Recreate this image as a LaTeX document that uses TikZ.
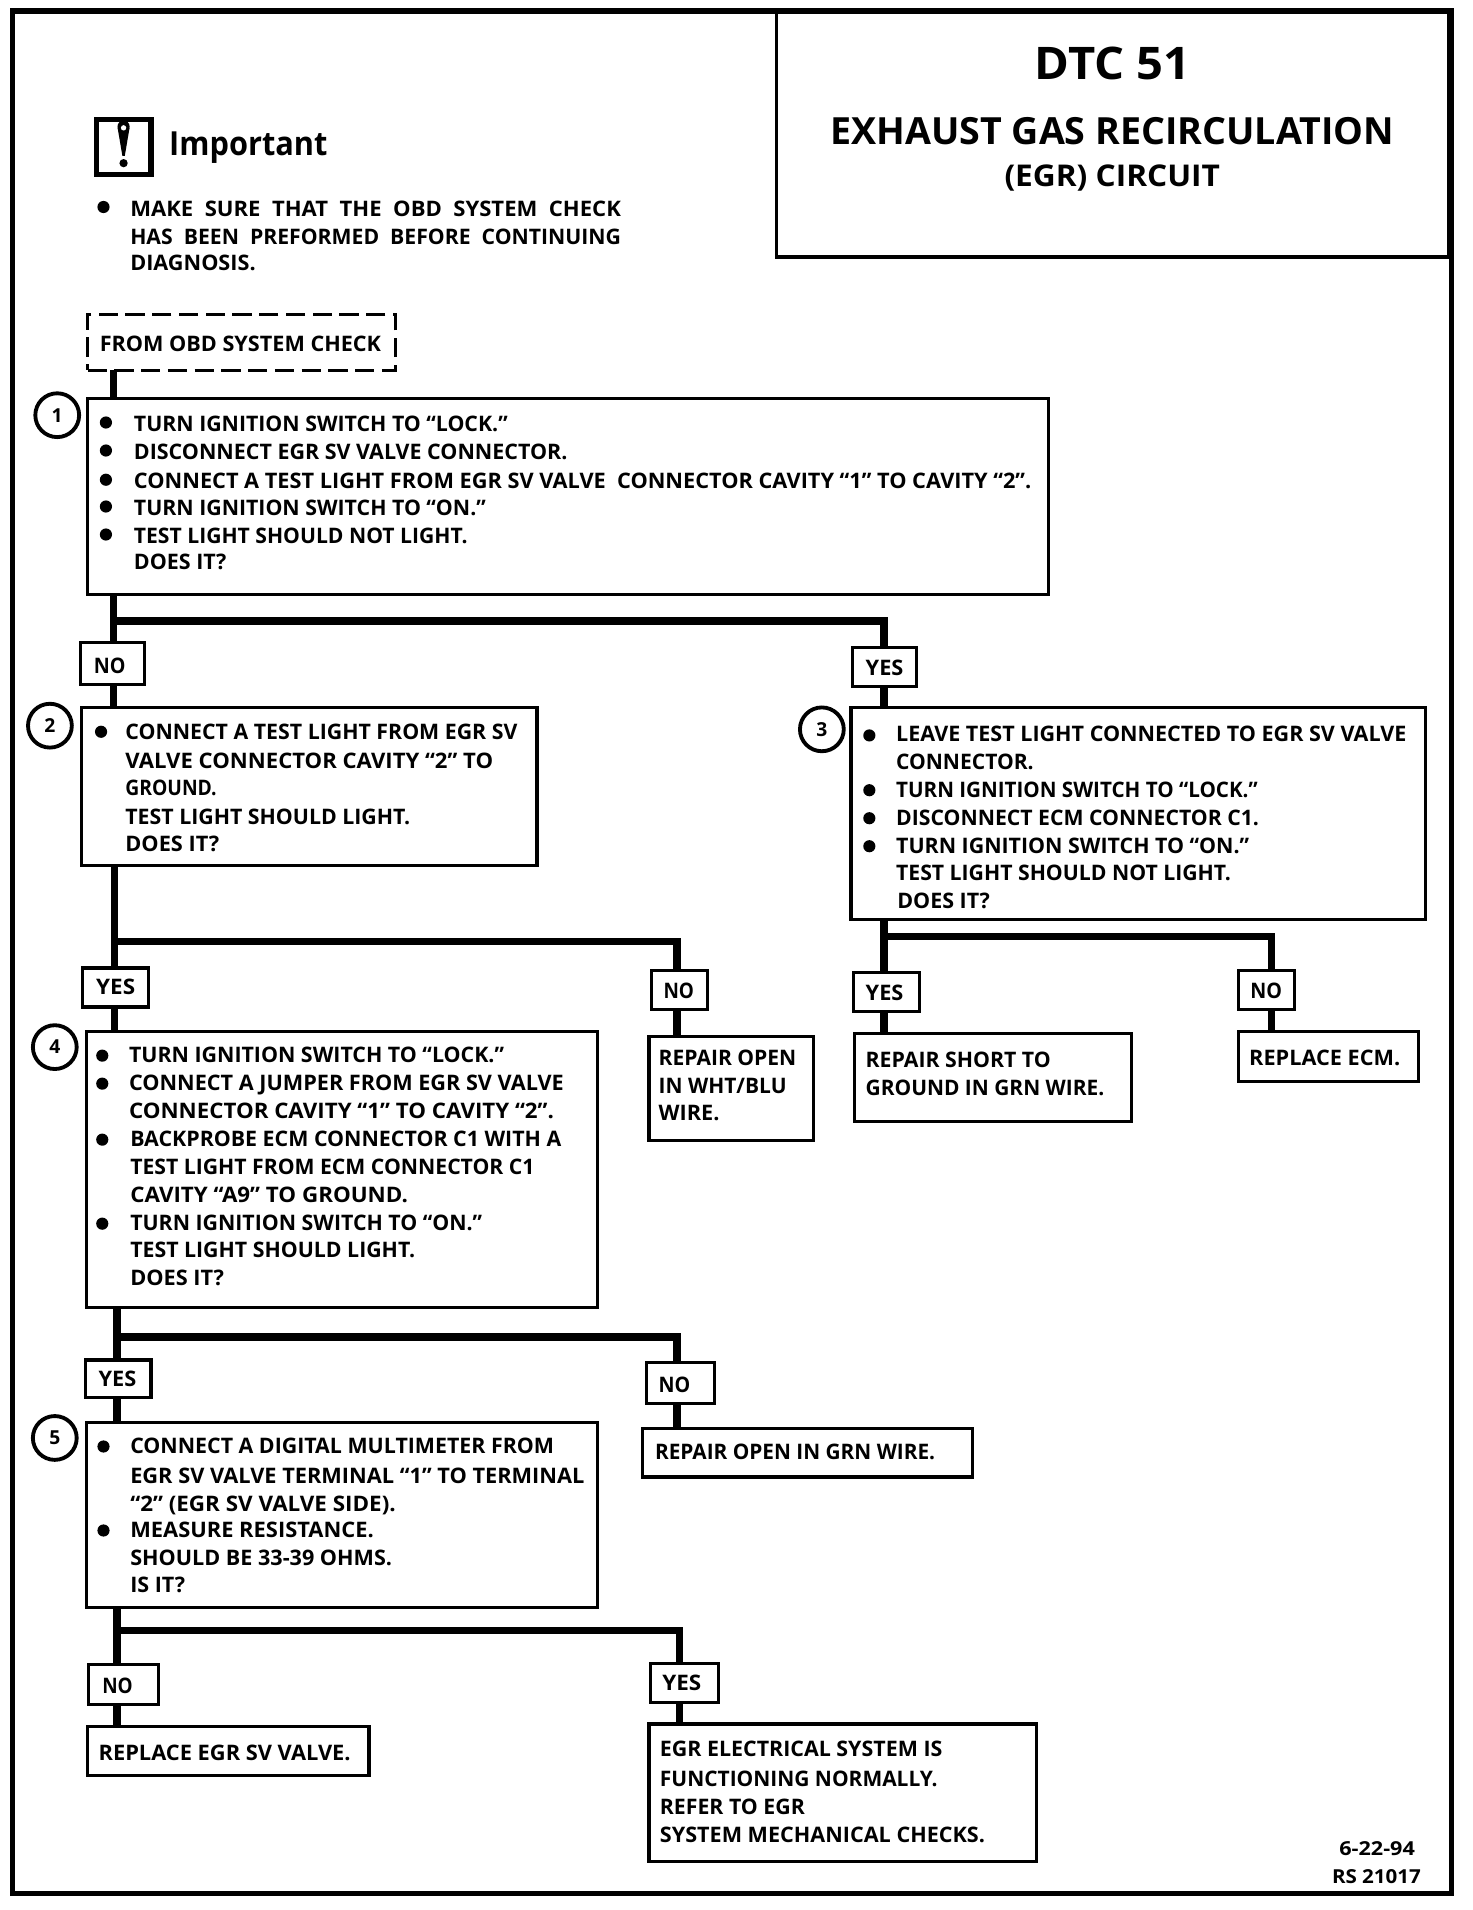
\documentclass[tikz,border=0pt]{standalone}
\usepackage{graphicx}
\usepackage{fontspec}
\setmainfont{Open Sans}
\newcounter{tlc}
\tikzset{
  x=0.02cm,y=-0.02cm,
  frameline/.style={draw=black,line width=2.4pt},
  boxnode/.style={draw=black,line width=1.5pt,fill=white,inner sep=0pt,outer sep=0pt,anchor=north west},
  dashnode/.style={boxnode,dash pattern=on 9pt off 3.5pt},
  conn/.style={draw=black,line width=3.4pt,line cap=butt},
  txtnode/.style={inner sep=0pt,outer sep=0pt,anchor=base west,text=black},
  numnode/.style={circle,draw=black,line width=1.8pt,fill=white,minimum size=0.72cm,inner sep=0pt,font=\fontsize{9}{10}\selectfont\bfseries},
}
% box: name, x1,y1,x2,y2
\newcommand{\bx}[5]{\node[boxnode,minimum width={(#4-#2)*0.02cm},minimum height={(#5-#3)*0.02cm}] (#1) at (#2,#3) {};}
% text line fitted to the measured width: x1,x2,baseline,text
\newcommand{\tl}[4]{\stepcounter{tlc}\pgfmathsetlengthmacro{\tlw}{(#2-#1)*0.02cm}\node[txtnode] (t\thetlc) at (#1,#3) {\resizebox{\tlw}{\height}{\fontsize{10}{12}\selectfont\bfseries #4}};}
\newcommand{\tlb}[5]{\stepcounter{tlc}\pgfmathsetlengthmacro{\tlw}{(#2-#1)*0.02cm}\node[txtnode] (t\thetlc) at (#1,#3) {\resizebox{\tlw}{\height}{\fontsize{#4}{#4}\selectfont\bfseries #5}};}
\newcommand{\bul}[2]{\fill[black] (#1,#2) circle [radius=5];}
\begin{document}
\begin{tikzpicture}
\useasboundingbox (0,0) rectangle (1209,1568.7);
\fill[white] (0,0) rectangle (1209,1568.7);
% outer frame and title
\draw[frameline] (10,9) rectangle (1192,1555);
\bx{title}{638}{10}{1190}{211}
\tlb{850}{978}{65}{21}{DTC 51}
\tlb{682}{1145}{119}{17.5}{EXHAUST GAS RECIRCULATION}
\tlb{825}{1002}{153}{14}{(EGR) CIRCUIT}
% important
\node[boxnode,line width=2.4pt,minimum width=0.9cm,minimum height=0.9cm] (icon) at (79,98) {};
\fill[black] (101.5,104) circle [radius=5];
\fill[black] (96.6,105) -- (106.4,105) -- (102.5,128) -- (100.5,128) -- cycle;
\fill[white] (101.5,105) circle [radius=2.2];
\fill[black] (101.5,134) circle [radius=3.4];
\tlb{139}{269}{128}{15.5}{Important}
\bul{85}{170}
\tl{107}{510}{178}{MAKE\ \ SURE\ \ THAT\ \ THE\ \ OBD\ \ SYSTEM\ \ CHECK}
\tl{107}{510}{201}{HAS\ \ BEEN\ \ PREFORMED\ \ BEFORE\ \ CONTINUING}
\tl{107}{210}{222}{DIAGNOSIS.}
% junction coordinates
\coordinate (j1) at (93,510);   \coordinate (j1r) at (726,510);
\coordinate (j2) at (94,773);   \coordinate (j2r) at (556,773);
\coordinate (j3) at (726,769);  \coordinate (j3r) at (1044,769);
\coordinate (j4) at (96,1098);  \coordinate (j4r) at (556,1098);
\coordinate (j5) at (96,1339);  \coordinate (j5r) at (558,1339);
% boxes
\node[dashnode,minimum width=5.06cm,minimum height=0.92cm] (start) at (72,258) {};
\bx{b1}{72}{327}{861}{488}
\bx{no1}{66}{528}{119}{562}
\bx{yes1}{700}{532}{753}{564}
\bx{b2}{67}{581}{441}{711}
\bx{b3}{699}{581}{1171}{755}
\bx{yes2}{68}{795}{122}{827}
\bx{no2}{535}{797}{581}{829}
\bx{yes3}{701}{799}{755}{831}
\bx{no3}{1017}{797}{1063}{829}
\bx{b4}{71}{847}{491}{1074}
\bx{rwht}{533}{851}{668}{937}
\bx{rshort}{702}{849}{929}{921}
\bx{recm}{1017}{847}{1165}{888}
\bx{yes4}{70}{1117}{124}{1148}
\bx{no4}{531}{1119}{587}{1153}
\bx{b5}{71}{1168}{491}{1320}
\bx{rgrn}{528}{1173}{799}{1213}
\bx{no5}{73}{1367}{130}{1400}
\bx{yes5}{534}{1366}{590}{1398}
\bx{regr}{72}{1418}{303}{1458}
\bx{rnorm}{533}{1416}{851}{1529}
% connectors
\draw[conn] (start.south -| j1) -- (b1.north -| j1);
\draw[conn] (b1.south -| j1) -- (no1.north -| j1);
\draw[conn] (no1.south -| j1) -- (b2.north -| j1);
\draw[conn] (j1) -- (j1r) -- (yes1.north -| j1r);
\draw[conn] (yes1.south -| j1r) -- (b3.north -| j1r);
\draw[conn] (b2.south -| j2) -- (yes2.north -| j2);
\draw[conn] (yes2.south -| j2) -- (b4.north -| j2);
\draw[conn] (j2) -- (j2r) -- (no2.north -| j2r);
\draw[conn] (no2.south -| j2r) -- (rwht.north -| j2r);
\draw[conn] (b3.south -| j3) -- (yes3.north -| j3);
\draw[conn] (yes3.south -| j3) -- (rshort.north -| j3);
\draw[conn] (j3) -- (j3r) -- (no3.north -| j3r);
\draw[conn] (no3.south -| j3r) -- (recm.north -| j3r);
\draw[conn] (b4.south -| j4) -- (yes4.north -| j4);
\draw[conn] (yes4.south -| j4) -- (b5.north -| j4);
\draw[conn] (j4) -- (j4r) -- (no4.north -| j4r);
\draw[conn] (no4.south -| j4r) -- (rgrn.north -| j4r);
\draw[conn] (b5.south -| j5) -- (no5.north -| j5);
\draw[conn] (no5.south -| j5) -- (regr.north -| j5);
\draw[conn] (j5) -- (j5r) -- (yes5.north -| j5r);
\draw[conn] (yes5.south -| j5r) -- (rnorm.north -| j5r);
% step circles
\node[numnode] (c1) at (47,341) {1};
\node[numnode] (c2) at (41,596) {2};
\node[numnode] (c3) at (675,599) {3};
\node[numnode] (c4) at (45,860) {4};
\node[numnode] (c5) at (45,1181) {5};
% start
\tl{82}{313}{289}{FROM OBD SYSTEM CHECK}
% box 1
\bul{87}{347}\bul{87}{370}\bul{87}{394}\bul{87}{416}\bul{87}{439}
\tl{110}{417}{354}{TURN IGNITION SWITCH TO “LOCK.”}
\tl{110}{466}{377}{DISCONNECT EGR SV VALVE CONNECTOR.}
\tl{110}{847}{401}{CONNECT A TEST LIGHT FROM EGR SV VALVE\ \ CONNECTOR CAVITY “1” TO CAVITY “2”.}
\tl{110}{399}{423}{TURN IGNITION SWITCH TO “ON.”}
\tl{110}{384}{446}{TEST LIGHT SHOULD NOT LIGHT.}
\tl{110}{186}{468}{DOES IT?}
\tl{77}{103}{553}{NO}
\tl{711}{742}{555}{YES}
% box 2
\bul{83}{601}
\tl{103}{425}{607}{CONNECT A TEST LIGHT FROM EGR SV}
\tl{103}{405}{631}{VALVE CONNECTOR CAVITY “2” TO}
\tl{103}{178}{653}{GROUND.}
\tl{103}{337}{677}{TEST LIGHT SHOULD LIGHT.}
\tl{103}{180}{699}{DOES IT?}
% box 3
\bul{714}{604}\bul{714}{649}\bul{714}{672}\bul{714}{695}
\tl{736}{1155}{609}{LEAVE TEST LIGHT CONNECTED TO EGR SV VALVE}
\tl{736}{849}{632}{CONNECTOR.}
\tl{736}{1033}{655}{TURN IGNITION SWITCH TO “LOCK.”}
\tl{736}{1034}{678}{DISCONNECT ECM CONNECTOR C1.}
\tl{736}{1026}{701}{TURN IGNITION SWITCH TO “ON.”}
\tl{736}{1011}{723}{TEST LIGHT SHOULD NOT LIGHT.}
\tl{737}{813}{746}{DOES IT?}
\tl{79}{111}{817}{YES}
\tl{545}{570}{820}{NO}
\tl{711}{742}{822}{YES}
\tl{1027}{1053}{820}{NO}
% box 4
\bul{84}{867}\bul{84}{890}\bul{84}{936}\bul{84}{1005}
\tl{106}{414}{873}{TURN IGNITION SWITCH TO “LOCK.”}
\tl{106}{463}{896}{CONNECT A JUMPER FROM EGR SV VALVE}
\tl{106}{455}{919}{CONNECTOR CAVITY “1” TO CAVITY “2”.}
\tl{107}{461}{942}{BACKPROBE ECM CONNECTOR C1 WITH A}
\tl{107}{439}{965}{TEST LIGHT FROM ECM CONNECTOR C1}
\tl{107}{335}{988}{CAVITY “A9” TO GROUND.}
\tl{107}{396}{1011}{TURN IGNITION SWITCH TO “ON.”}
\tl{107}{341}{1033}{TEST LIGHT SHOULD LIGHT.}
\tl{107}{184}{1056}{DOES IT?}
\tl{541}{654}{875}{REPAIR OPEN}
\tl{541}{646}{898}{IN WHT/BLU}
\tl{541}{591}{920}{WIRE.}
\tl{711}{863}{877}{REPAIR SHORT TO}
\tl{711}{907}{900}{GROUND IN GRN WIRE.}
\tl{1026}{1150}{875}{REPLACE ECM.}
\tl{81}{112}{1139}{YES}
\tl{541}{567}{1144}{NO}
% box 5
\bul{85}{1188}\bul{85}{1257}
\tl{107}{455}{1194}{CONNECT A DIGITAL MULTIMETER FROM}
\tl{107}{480}{1218}{EGR SV VALVE TERMINAL “1” TO TERMINAL}
\tl{107}{325}{1241}{“2” (EGR SV VALVE SIDE).}
\tl{107}{307}{1263}{MEASURE RESISTANCE.}
\tl{107}{322}{1286}{SHOULD BE 33-39 OHMS.}
\tl{107}{152}{1308}{IS IT?}
\tl{538}{768}{1199}{REPAIR OPEN IN GRN WIRE.}
\tl{84}{109}{1391}{NO}
\tl{544}{576}{1388}{YES}
\tl{81}{288}{1446}{REPLACE EGR SV VALVE.}
\tl{542}{774}{1443}{EGR ELECTRICAL SYSTEM IS}
\tl{542}{770}{1467}{FUNCTIONING NORMALLY.}
\tl{542}{661}{1490}{REFER TO EGR}
\tl{542}{809}{1513}{SYSTEM MECHANICAL CHECKS.}
\tlb{1100}{1162}{1524}{9}{6-22-94}
\tlb{1094}{1167}{1547}{9}{RS 21017}
\end{tikzpicture}
\end{document}
